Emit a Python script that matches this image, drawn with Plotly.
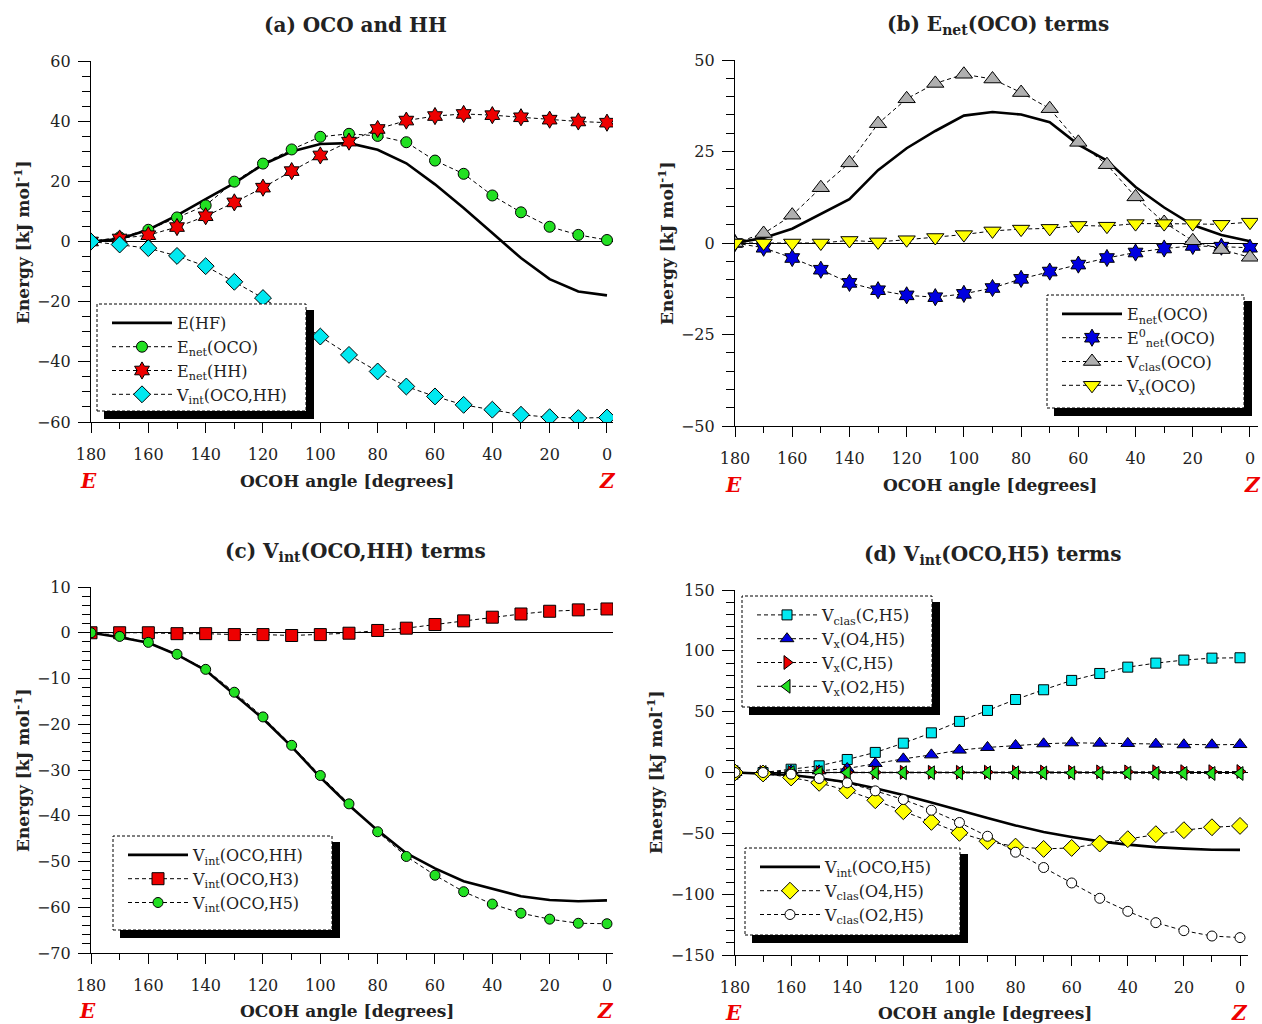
import plotly.graph_objects as go

W, H = 1262, 1024

angle = [180, 170, 160, 150, 140, 130, 120, 110, 100, 90, 80, 70, 60, 50, 40, 30, 20, 10, 0]

# (a) OCO and HH
e_hf = [0, 0.8, 3.9, 8.7, 14.1, 19.4, 25.6, 29.9, 32.4, 32.7, 30.5, 26.0, 19.0, 11.1, 2.8, -5.5, -12.5, -16.6, -17.9]
enet_oco = [0, 1.4, 3.9, 8.0, 12.0, 19.9, 25.9, 30.6, 34.8, 35.8, 35.1, 33.0, 26.9, 22.5, 15.3, 9.7, 4.9, 2.2, 0.5]
enet_hh = [0, 1.0, 2.1, 4.8, 8.4, 13.0, 17.9, 23.4, 28.6, 33.2, 37.4, 40.2, 41.7, 42.4, 42.0, 41.3, 40.5, 39.9, 39.5]
vint_oco_hh = [0, -1.0, -2.2, -4.8, -8.2, -13.4, -18.8, -24.9, -31.6, -37.7, -43.2, -48.2, -51.5, -54.3, -55.9, -57.6, -58.4, -58.7, -58.5]

# (b) Enet(OCO) terms
enet0_oco = [0, -1.3, -4.1, -7.3, -10.9, -12.9, -14.3, -14.8, -13.9, -12.3, -9.8, -7.8, -5.9, -4.1, -2.6, -1.5, -0.8, -1.0, -1.3]
vclas_oco = [0, 2.6, 7.6, 15.1, 21.9, 32.6, 39.4, 43.6, 46.1, 44.8, 41.1, 36.7, 27.5, 21.4, 12.6, 5.6, 0.6, -1.8, -3.9]
vx_oco = [0, 0, 0, 0, 0.7, 0.3, 0.9, 1.5, 2.3, 3.3, 3.8, 4.0, 4.8, 4.6, 5.3, 5.3, 5.3, 5.1, 5.7]

# (c) Vint(OCO,HH) terms
vint_oco_h3 = [0, 0, 0, -0.2, -0.2, -0.4, -0.4, -0.6, -0.4, -0.1, 0.5, 1.0, 1.8, 2.6, 3.4, 4.1, 4.7, 5.0, 5.2]
vint_oco_h5 = [0, -0.8, -2.1, -4.7, -8.0, -13.0, -18.4, -24.6, -31.2, -37.4, -43.5, -48.9, -53.0, -56.6, -59.3, -61.3, -62.6, -63.5, -63.6]

# (d) Vint(OCO,H5) terms
vclas_c_h5 = [0, 0, 2.7, 5.5, 10.7, 16.5, 24.1, 32.6, 42.0, 51.0, 60.0, 68.0, 75.7, 81.4, 86.6, 89.9, 92.4, 94.0, 94.3]
vx_o4_h5 = [0, 0, 1.4, 1.4, 3.3, 7.4, 11.2, 14.5, 18.4, 20.6, 22.2, 23.6, 24.4, 24.1, 23.9, 23.3, 22.8, 22.8, 23.0]
vx_c_h5 = [0, 0, 0, 0.1, 0.1, 0.1, 0.2, 0.2, 0.2, 0.3, 0.3, 0.4, 0.4, 0.5, 0.5, 0.6, 0.7, 0.7, 0.8]
vx_o2_h5 = [0, 0, 0, -0.1, -0.1, -0.2, -0.2, -0.2, -0.3, -0.3, -0.3, -0.4, -0.4, -0.5, -0.5, -0.6, -0.7, -0.8, -0.8]
vclas_o4_h5 = [0, -0.8, -4.1, -8.5, -14.8, -22.8, -31.8, -40.6, -49.6, -56.5, -60.9, -62.8, -62.0, -58.4, -54.8, -50.7, -47.4, -45.0, -43.9]
vclas_o2_h5 = [0, 0, -1.4, -4.9, -8.5, -15.1, -22.2, -31.0, -41.1, -52.4, -65.5, -78.1, -90.8, -103.4, -114.1, -123.4, -130.0, -134.4, -135.7]

FONT = "DejaVu Serif"
DASH = "4px,3px"


def px_x(p):
    return p / W


def px_y(p):
    return 1 - p / H


fig = go.Figure()

panels = {
    "a": dict(xs="", x0=91, x1=613, y0=61, y1=422, xr=[180, -2.1], yr=[-60, 60], dt=20, mdt=5),
    "b": dict(xs="2", x0=735, x1=1258, y0=60, y1=426, xr=[180, -2.8], yr=[-50, 50], dt=25, mdt=5),
    "c": dict(xs="3", x0=91, x1=613, y0=587, y1=953, xr=[180, -2.1], yr=[-70, 10], dt=10, mdt=2),
    "d": dict(xs="4", x0=735, x1=1248, y0=590, y1=955, xr=[180, -2.85], yr=[-150, 150], dt=50, mdt=10),
}

for k, p in panels.items():
    s = p["xs"]
    xa = dict(
        domain=[px_x(p["x0"]), px_x(p["x1"])], range=p["xr"], anchor="y" + s, automargin=False,
        showline=True, linecolor="black", linewidth=1.3, showgrid=False, zeroline=False,
        tickmode="array", tickvals=[180, 160, 140, 120, 100, 80, 60, 40, 20, 0],
        ticks="outside", ticklen=10, tickwidth=1.3, tickcolor="black",
        minor=dict(tickmode="array", tickvals=[170, 150, 130, 110, 90, 70, 50, 30, 10],
                   ticks="outside", ticklen=6, tickwidth=1.3, tickcolor="black"),
        tickfont=dict(family=FONT, size=16, color="#222"), ticklabelstandoff=8,
    )
    ya = dict(
        domain=[px_y(p["y1"]), px_y(p["y0"])], range=p["yr"], anchor="x" + s, automargin=False,
        showline=True, linecolor="black", linewidth=1.3, showgrid=False,
        zeroline=True, zerolinecolor="black", zerolinewidth=1.3,
        dtick=p["dt"], tick0=0, ticks="outside", ticklen=12, tickwidth=1.3, tickcolor="black",
        minor=dict(dtick=p["mdt"], ticks="outside", ticklen=8, tickwidth=1.3, tickcolor="black"),
        tickfont=dict(family=FONT, size=16, color="#222"), ticklabelstandoff=4,
        tickformat="d",
    )
    fig.update_layout({"xaxis" + s: xa, "yaxis" + s: ya})


def add(y, name, panel, legend, color=None, symbol=None, size=10, solid=False):
    s = panels[panel]["xs"]
    if solid:
        tr = go.Scatter(x=angle, y=y, name=name, mode="lines",
                        line=dict(color="black", width=2.6),
                        xaxis="x" + s, yaxis="y" + s, legend=legend)
    else:
        tr = go.Scatter(x=angle, y=y, name=name, mode="lines+markers",
                        line=dict(color="black", width=1, dash=DASH),
                        marker=dict(symbol=symbol, size=size, color=color,
                                    line=dict(color="black", width=1)),
                        xaxis="x" + s, yaxis="y" + s, legend=legend)
    fig.add_trace(tr)


# (a)
add(e_hf, "E(HF)", "a", "legend", solid=True)
add(enet_oco, "E<sub>net</sub>(OCO)", "a", "legend", "#22e022", "circle", 11)
add(enet_hh, "E<sub>net</sub>(HH)", "a", "legend", "#ee0000", "hexagram", 13)
add(vint_oco_hh, "V<sub>int</sub>(OCO,HH)", "a", "legend", "#00e8f0", "diamond", 13)
# (b)
add(enet_oco, "E<sub>net</sub>(OCO)", "b", "legend2", solid=True)
add(enet0_oco, "E<sup>0</sup><sub>net</sub>(OCO)", "b", "legend2", "#0000e0", "hexagram", 13)
add(vclas_oco, "V<sub>clas</sub>(OCO)", "b", "legend2", "#b0b0b0", "triangle-up", 15)
add(vx_oco, "V<sub>x</sub>(OCO)", "b", "legend2", "#ffff00", "triangle-down", 15)
# (c)
add(vint_oco_hh, "V<sub>int</sub>(OCO,HH)", "c", "legend3", solid=True)
add(vint_oco_h3, "V<sub>int</sub>(OCO,H3)", "c", "legend3", "#ee0000", "square", 12)
add(vint_oco_h5, "V<sub>int</sub>(OCO,H5)", "c", "legend3", "#22e022", "circle", 10)
# (d)
add(vclas_c_h5, "V<sub>clas</sub>(C,H5)", "d", "legend4", "#00e8f0", "square", 10)
add(vx_o4_h5, "V<sub>x</sub>(O4,H5)", "d", "legend4", "#0000e0", "triangle-up", 12)
add(vx_c_h5, "V<sub>x</sub>(C,H5)", "d", "legend4", "#ee0000", "triangle-right", 12)
add(vx_o2_h5, "V<sub>x</sub>(O2,H5)", "d", "legend4", "#22e022", "triangle-left", 12)
add(vint_oco_h5, "V<sub>int</sub>(OCO,H5)", "d", "legend5", solid=True)
add(vclas_o4_h5, "V<sub>clas</sub>(O4,H5)", "d", "legend5", "#ffff00", "diamond", 13)
add(vclas_o2_h5, "V<sub>clas</sub>(O2,H5)", "d", "legend5", "white", "circle", 10)

# legend boxes (px): left, top, right, bottom
boxes = {
    "legend": (97, 304, 306, 411),
    "legend2": (1047, 295, 1244, 408),
    "legend3": (113, 836, 332, 930),
    "legend4": (742, 596, 932, 707),
    "legend5": (745, 848, 960, 935),
}
shapes = []
for name, (l, t, r, b) in boxes.items():
    shapes.append(dict(type="rect", xref="paper", yref="paper",
                       x0=px_x(l + 7), x1=px_x(r + 8), y0=px_y(b + 8), y1=px_y(t + 6),
                       fillcolor="black", line=dict(width=0), layer="above"))
    shapes.append(dict(type="rect", xref="paper", yref="paper",
                       x0=px_x(l), x1=px_x(r), y0=px_y(b), y1=px_y(t),
                       fillcolor="white", line=dict(color="black", width=1, dash="3px,2px"),
                       layer="above"))
    fig.update_layout({name: dict(
        x=px_x(l + 10), y=px_y(t + 2), xanchor="left", yanchor="top", xref="paper", yref="paper",
        bgcolor="rgba(0,0,0,0)", borderwidth=0, itemwidth=60,
        font=dict(family=FONT, size=16, color="#222"), tracegroupgap=0,
        itemclick=False)})

annotations = []
titles = [
    ("<b>(a) OCO and HH</b>", 355, 25),
    ("<b>(b) E<sub>net</sub>(OCO) terms</b>", 998, 25),
    ("<b>(c) V<sub>int</sub>(OCO,HH) terms</b>", 355, 552),
    ("<b>(d) V<sub>int</sub>(OCO,H5) terms</b>", 993, 555),
]
for t, x, y in titles:
    annotations.append(dict(text=t, x=px_x(x), y=px_y(y), xref="paper", yref="paper",
                            showarrow=False, xanchor="center", yanchor="middle",
                            font=dict(family=FONT, size=20, color="#222")))
ytitles = [(22, 242), (666, 243), (22, 770), (655, 772)]
for x, y in ytitles:
    annotations.append(dict(text="<b>Energy [kJ mol<sup>-1</sup>]</b>", x=px_x(x), y=px_y(y),
                            xref="paper", yref="paper", showarrow=False, textangle=-90,
                            xanchor="center", yanchor="middle",
                            font=dict(family=FONT, size=17, color="#222")))
xtitles = [(347, 481, 89, 607), (990, 485, 733, 1252), (347, 1011, 87, 605), (985, 1013, 733, 1239)]
for x, y, ex, zx in xtitles:
    annotations.append(dict(text="<b>OCOH angle [degrees]</b>", x=px_x(x), y=px_y(y),
                            xref="paper", yref="paper", showarrow=False,
                            xanchor="center", yanchor="middle",
                            font=dict(family=FONT, size=17, color="#222")))
    for lab, lx in (("E", ex), ("Z", zx)):
        annotations.append(dict(text="<b><i>" + lab + "</i></b>", x=px_x(lx), y=px_y(y),
                                xref="paper", yref="paper", showarrow=False,
                                xanchor="center", yanchor="middle",
                                font=dict(family=FONT, size=20, color="#ee0000")))

fig.update_layout(
    width=W, height=H, margin=dict(l=0, r=0, t=0, b=0, autoexpand=False),
    paper_bgcolor="white", plot_bgcolor="white",
    shapes=shapes, annotations=annotations, showlegend=True,
)

fig.write_html("out.html")
